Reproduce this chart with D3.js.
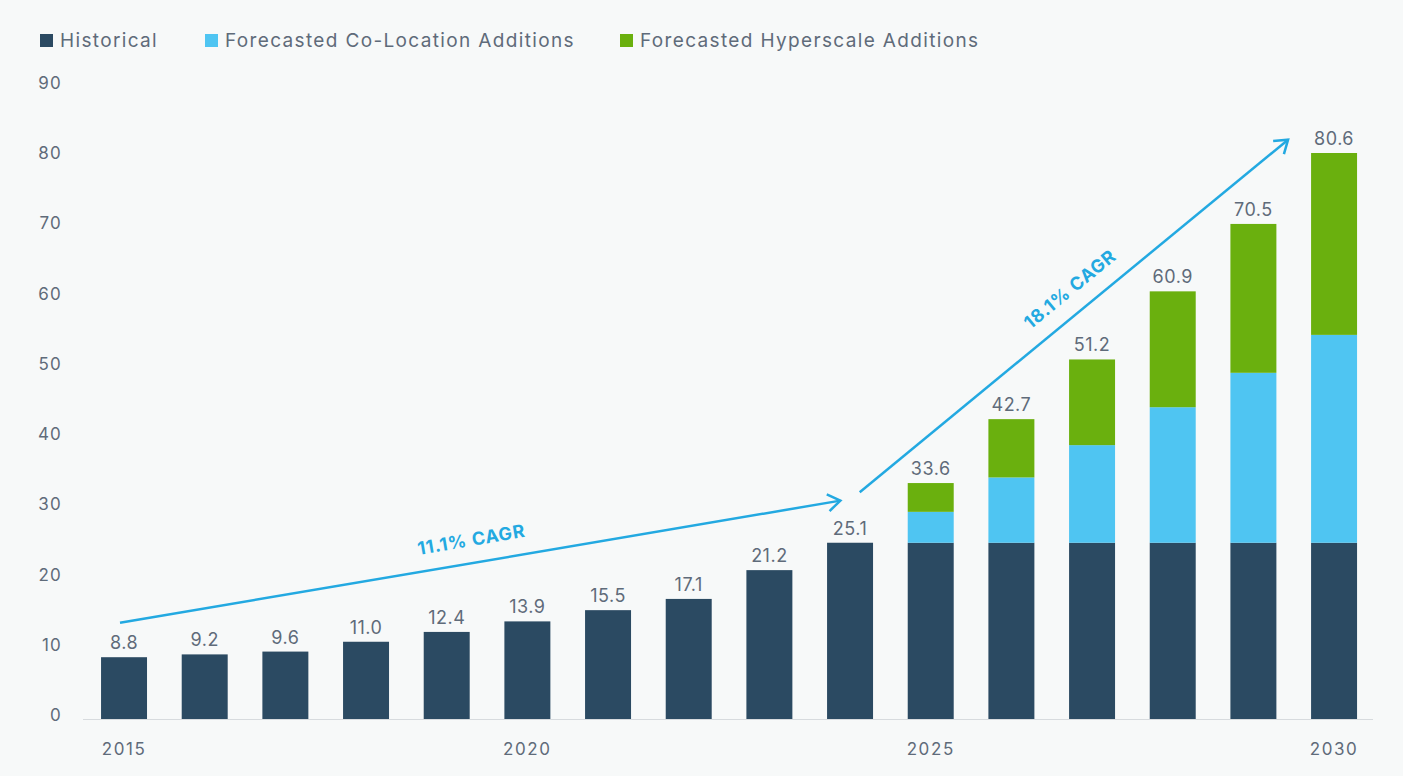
<!DOCTYPE html>
<html>
<head>
<meta charset="utf-8">
<script src="https://cdn.jsdelivr.net/npm/d3@7"></script>
<style>
  html, body { margin: 0; padding: 0; background: #ffffff; }
  svg { display: block; }
</style>
</head>
<body>
<svg id="chart" width="1403" height="776"></svg>
<script>
// Data-centre capacity, historical and forecast by component
const years = [2015, 2016, 2017, 2018, 2019, 2020, 2021, 2022, 2023, 2024, 2025, 2026, 2027, 2028, 2029, 2030];
const historical = [8.8, 9.2, 9.6, 11.0, 12.4, 13.9, 15.5, 17.1, 21.2, 25.1, 25.1, 25.1, 25.1, 25.1, 25.1, 25.1];
const coLocation = [0, 0, 0, 0, 0, 0, 0, 0, 0, 0, 4.4, 9.3, 13.9, 19.3, 24.2, 29.6];
const hyperscale = [0, 0, 0, 0, 0, 0, 0, 0, 0, 0, 4.1, 8.3, 12.2, 16.5, 21.2, 25.9];
const totals = [8.8, 9.2, 9.6, 11.0, 12.4, 13.9, 15.5, 17.1, 21.2, 25.1, 33.6, 42.7, 51.2, 60.9, 70.5, 80.6];
const yTicks = [0, 10, 20, 30, 40, 50, 60, 70, 80, 90];
const xTickYears = [2015, 2020, 2025, 2030];
const seriesNames = ["Historical", "Forecasted Co-Location Additions", "Forecasted Hyperscale Additions"];
const seriesColors = ["#2b4a62", "#4fc5f2", "#6ab00e"];
// Growth-rate arrows: [start year, start offset (band steps), start value, end year, end offset, end value]
const cagrLabels = ["11.1% CAGR", "18.1% CAGR"];
const cagrFrom = [[2015, -0.05, 13.7], [2024, 0.12, 32.3]];
const cagrTo = [[2024, -0.12, 31.1], [2030, -0.57, 82.5]];

const svg = d3.select("#chart");
const W = 1403, H = 776;
const font = "Inter, 'Open Sans', sans-serif";
const textColor = "#5f6b7a";
const accent = "#23a9e1";

svg.append("rect").attr("width", W).attr("height", H).attr("fill", "#f7f9f9");

const x = d3.scaleBand().domain(years).range([83.7, 1374.4]).paddingInner(0.43).paddingOuter(0.215);
const y = d3.scaleLinear().domain([0, 90]).range([719, 87]);

// stacked layout
const rows = years.map((yr, i) => ({ year: yr, h: historical[i], c: coLocation[i], g: hyperscale[i] }));
const stack = d3.stack().keys(["h", "c", "g"])(rows);

// y tick labels
const yAxis = d3.axisLeft(y).tickValues(yTicks).tickSize(0).tickPadding(0).tickFormat(d3.format("d"));
const yg = svg.append("g").attr("transform", "translate(62,-4)").call(yAxis);
yg.select(".domain").remove();
yg.selectAll("text").attr("font-family", font).attr("font-size", 17).attr("letter-spacing", 1.2).attr("fill", textColor);

// baseline
svg.append("line").attr("x1", 83).attr("x2", 1373).attr("y1", y(0) + 0.5).attr("y2", y(0) + 0.5)
  .attr("stroke", "#d7dbde").attr("stroke-width", 1);

// x axis labels
const xAxis = d3.axisBottom(x).tickValues(xTickYears).tickSize(0).tickPadding(0).tickFormat(d3.format("d"));
const xg = svg.append("g").attr("transform", `translate(0,${y(0) + 24})`).call(xAxis);
xg.select(".domain").remove();
xg.selectAll("text").attr("font-family", font).attr("font-size", 17).attr("letter-spacing", 1.6).attr("fill", textColor);

// bars
svg.append("g").selectAll("g").data(stack).join("g")
  .attr("fill", (d, i) => seriesColors[i])
  .selectAll("rect").data(d => d.filter(s => s[1] > s[0])).join("rect")
  .attr("x", d => x(d.data.year))
  .attr("width", x.bandwidth())
  .attr("y", d => y(d[1]))
  .attr("height", d => y(d[0]) - y(d[1]));

// value labels
svg.append("g").selectAll("text").data(years).join("text")
  .attr("x", d => x(d) + x.bandwidth() / 2)
  .attr("y", (d, i) => y(totals[i]) - 8)
  .attr("text-anchor", "middle")
  .attr("font-family", font).attr("font-size", 18).attr("letter-spacing", 0.5).attr("fill", textColor)
  .text((d, i) => totals[i].toFixed(1));

// CAGR arrows
const px = (p) => x(p[0]) + x.bandwidth() / 2 + p[1] * x.step();
const labelShift = [-5, 14];
cagrLabels.forEach((label, i) => {
  const x1 = px(cagrFrom[i]), y1 = y(cagrFrom[i][2]);
  const x2 = px(cagrTo[i]), y2 = y(cagrTo[i][2]);
  const ang = Math.atan2(y2 - y1, x2 - x1);
  const g = svg.append("g");
  g.append("line").attr("x1", x1).attr("y1", y1).attr("x2", x2).attr("y2", y2)
    .attr("stroke", accent).attr("stroke-width", 2.5);
  const L = 15, spread = 0.6;
  const head = [
    [x2 - L * Math.cos(ang - spread), y2 - L * Math.sin(ang - spread)],
    [x2, y2],
    [x2 - L * Math.cos(ang + spread), y2 - L * Math.sin(ang + spread)]
  ];
  g.append("path").attr("d", d3.line()(head)).attr("fill", "none")
    .attr("stroke", accent).attr("stroke-width", 2.5).attr("stroke-linejoin", "miter");
  const s = labelShift[i], off = 17;
  const mx = (x1 + x2) / 2 + s * Math.cos(ang), my = (y1 + y2) / 2 + s * Math.sin(ang);
  const deg = ang * 180 / Math.PI;
  const tx = mx + off * Math.sin(ang), ty = my - off * Math.cos(ang);
  g.append("text")
    .attr("transform", `translate(${tx},${ty}) rotate(${deg})`)
    .attr("text-anchor", "middle")
    .attr("font-family", font).attr("font-size", 18).attr("font-weight", 700).attr("letter-spacing", 0.8)
    .attr("fill", accent)
    .text(label);
});

// legend
const legendX = [40, 205, 620];
const lg = svg.append("g");
seriesNames.forEach((name, i) => {
  lg.append("rect").attr("x", legendX[i]).attr("y", 34).attr("width", 13).attr("height", 13).attr("fill", seriesColors[i]);
  lg.append("text").attr("x", legendX[i] + 20).attr("y", 47)
    .attr("font-family", font).attr("font-size", 19).attr("letter-spacing", 1.35).attr("fill", textColor)
    .text(name);
});
</script>
</body>
</html>
